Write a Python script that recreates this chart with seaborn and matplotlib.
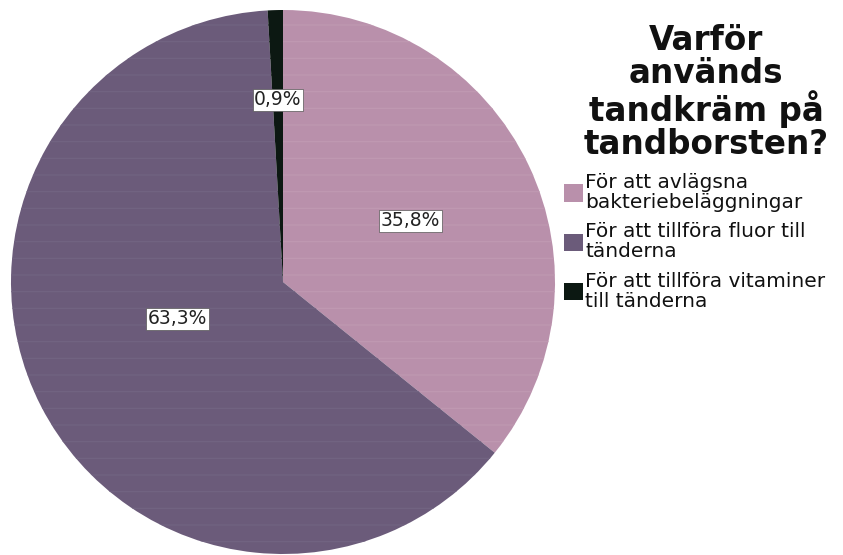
import matplotlib
matplotlib.use("Agg")
import matplotlib.pyplot as plt
import seaborn as sns
import numpy as np

categories = ["För att avlägsna\nbakteriebeläggningar",
              "För att tillföra fluor till\ntänderna",
              "För att tillföra vitaminer\ntill tänderna"]
values = [35.8, 63.3, 0.9]
colors = ["#b990ab", "#6b5b7a", "#0c1812"]
stripe_colors = ["#c09ab2", "#726482", "#0c1812"]
title = "Varför\nanvänds\ntandkräm på\ntandborsten?"
label_dist = [0.52, 0.41, 0.67]
label_angle_shift = [0, -8, 0]

sns.set_theme(style="white")
plt.rcParams['font.family'] = ['DejaVu Sans']
plt.rcParams['hatch.linewidth'] = 0.8

W, H = 843, 555
fig = plt.figure(figsize=(W / 100, H / 100), dpi=100)
cx, cy, r = 283, 282, 272
ax = fig.add_axes([(cx - r) / W, (H - cy - r) / H, 2 * r / W, 2 * r / H])

wedges, texts, autotexts = ax.pie(
    values, colors=colors, startangle=90, counterclock=False,
    autopct=lambda p: f"{p:.1f}%".replace('.', ','),
    wedgeprops=dict(linewidth=0),
    textprops=dict(fontsize=13.5, color="#222222"))

for w, sc in zip(wedges, stripe_colors):
    w.set_hatch('-')
    w.set_edgecolor(sc)
    w.set_linewidth(0)

for w, at, d, s in zip(wedges, autotexts, label_dist, label_angle_shift):
    th = np.deg2rad((w.theta1 + w.theta2) / 2 + s)
    at.set_position((d * np.cos(th), d * np.sin(th)))
    at.set_bbox(dict(boxstyle="square,pad=0.08", facecolor="white",
                     edgecolor="#555555", linewidth=0.5))

ax.set_xlim(-1, 1)
ax.set_ylim(-1, 1)
ax.set_aspect('equal')

fig.text(706 / W, 1 - 24 / H, title, ha='center', va='top', fontsize=23.5,
         fontweight='bold', linespacing=1.0, multialignment='center',
         color="#111111")

leg = fig.legend(wedges, categories, loc='upper left',
                 bbox_to_anchor=(564 / W, 1 - 173 / H), frameon=False,
                 fontsize=14.5, handlelength=0.95, handleheight=0.95,
                 handletextpad=0.1, labelspacing=0.5, borderpad=0,
                 borderaxespad=0, labelcolor="#111111")
for t in leg.get_texts():
    t.set_linespacing(1.08)
for h in leg.legend_handles:
    h.set_hatch(None)

fig.savefig("out.png", dpi=100)
